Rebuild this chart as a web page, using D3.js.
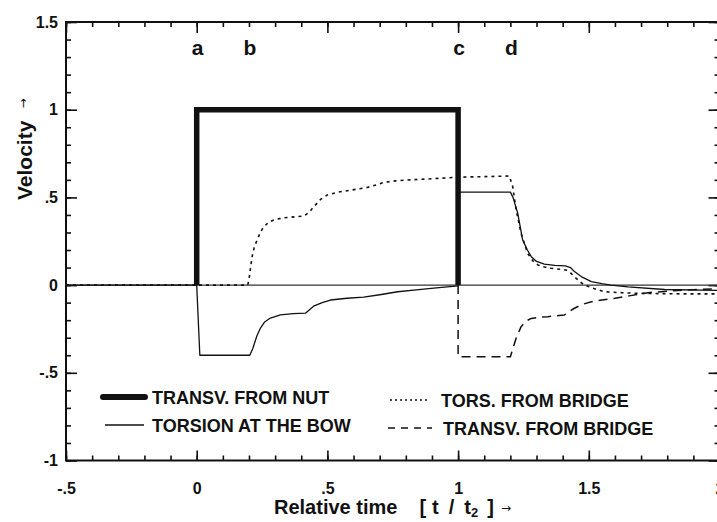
<!DOCTYPE html>
<html>
<head>
<meta charset="utf-8">
<script src="https://cdn.jsdelivr.net/npm/d3@7"></script>
<style>
  html, body { margin: 0; padding: 0; background: #fff; }
  svg { display: block; }
  text { font-family: "Liberation Sans", Arial, Helvetica, sans-serif; fill: #111; }
</style>
</head>
<body>
<svg id="chart" width="717" height="522"></svg>
<script>
// ---- data -------------------------------------------------------------
const timeMajorTicks = [-0.5, 0, 0.5, 1, 1.5, 2];
const timeMinorTicks = d3.range(-0.5, 2.001, 0.1);
const velocityMajorTicks = [-1, -0.5, 0, 0.5, 1, 1.5];
const velocityMinorTicks = d3.range(-1, 1.501, 0.1);

// event markers along the top
const markerLabels = ["a", "b", "c", "d"];
const markerTimes = [0, 0.2, 1, 1.2];

// transverse wave arriving from the nut (square pulse)
const nutTime = [0, 0, 1, 1];
const nutVel  = [0, 1, 1, 0];

// torsion at the bow
const bowTime = [-0.5, 0, 0.012, 0.203, 0.215, 0.23, 0.244, 0.26, 0.282, 0.32, 0.37, 0.416, 0.447, 0.48, 0.512,
                 0.575, 0.639, 0.7, 0.769, 0.84, 0.907, 1.0, 1.0, 1.2, 1.21, 1.228, 1.247, 1.265, 1.28, 1.3,
                 1.33, 1.37, 1.41, 1.43, 1.445, 1.475, 1.51, 1.55, 1.585, 1.65, 1.79, 2.0];
const bowVel  = [0, 0, -0.40, -0.40, -0.36, -0.29, -0.245, -0.21, -0.188, -0.17, -0.163, -0.16, -0.12, -0.1, -0.085,
                 -0.075, -0.068, -0.055, -0.038, -0.027, -0.017, -0.005, 0.53, 0.53, 0.50, 0.41, 0.257, 0.2, 0.162, 0.135,
                 0.12, 0.112, 0.11, 0.1, 0.077, 0.045, 0.02, 0.008, 0.0, -0.01, -0.025, -0.03];

// torsional wave from the bridge
const torsTime = [-0.5, 0.195, 0.2, 0.206, 0.212, 0.22, 0.231, 0.245, 0.257, 0.275, 0.295, 0.325, 0.359, 0.41, 0.43,
                  0.448, 0.475, 0.5, 0.54, 0.576, 0.653, 0.69, 0.717, 0.76, 0.806, 0.908, 0.998, 1.196, 1.209, 1.222,
                  1.241, 1.266, 1.285, 1.305, 1.33, 1.356, 1.413, 1.43, 1.445, 1.465, 1.484, 1.52, 1.56, 1.62, 1.688,
                  1.854, 2.0];
const torsVel  = [0, 0, 0.03, 0.1, 0.162, 0.215, 0.257, 0.305, 0.333, 0.358, 0.371, 0.382, 0.387, 0.394, 0.415,
                  0.447, 0.49, 0.514, 0.53, 0.538, 0.557, 0.572, 0.586, 0.594, 0.599, 0.607, 0.615, 0.622, 0.561, 0.428,
                  0.295, 0.181, 0.14, 0.115, 0.103, 0.096, 0.086, 0.07, 0.048, 0.02, 0.0, -0.02, -0.038, -0.043, -0.047,
                  -0.05, -0.05];

// transverse wave from the bridge
const bridgeTime = [1.0, 1.0, 1.2, 1.21, 1.222, 1.241, 1.26, 1.28, 1.31, 1.343, 1.407, 1.425, 1.445, 1.475, 1.51,
                    1.55, 1.6, 1.66, 1.727, 1.867, 2.0];
const bridgeVel  = [0, -0.408, -0.408, -0.36, -0.303, -0.237, -0.205, -0.19, -0.183, -0.18, -0.17, -0.15, -0.132,
                    -0.11, -0.095, -0.085, -0.075, -0.06, -0.043, -0.028, -0.02];

const seriesNames = ["TRANSV. FROM NUT", "TORSION AT THE BOW", "TORS. FROM BRIDGE", "TRANSV. FROM BRIDGE"];

// ---- layout -----------------------------------------------------------
const svg = d3.select("#chart");
const x = d3.scaleLinear().domain([-0.5, 2]).range([66, 719.5]);
const y = d3.scaleLinear().domain([-1, 1.5]).range([460.5, 22]);
const ink = "#111";

// ".5" style labels: drop the leading zero
const fmt = v => (v === 0 ? "0" : String(v).replace(/^(-?)0\./, "$1."));

// ---- axes: majors with labels, minors unlabeled, ticks pointing inward
function tickStyle(g) {
  g.select(".domain").remove();
  g.selectAll("line").attr("stroke", ink).attr("stroke-width", 1.6);
  g.selectAll("text").attr("font-size", 16).attr("font-weight", "bold").attr("fill", ink)
    .style("font-family", '"Liberation Sans", Arial, sans-serif');
}

svg.append("g").attr("transform", `translate(${x(-0.5)},0)`)
  .call(d3.axisLeft(y).tickValues(velocityMajorTicks).tickSize(-11).tickPadding(8).tickFormat(fmt))
  .call(tickStyle);
svg.append("g").attr("transform", `translate(${x(-0.5)},0)`)
  .call(d3.axisLeft(y).tickValues(velocityMinorTicks).tickSize(-5).tickFormat(""))
  .call(tickStyle);
svg.append("g").attr("transform", `translate(${x(2)},0)`)
  .call(d3.axisRight(y).tickValues(velocityMajorTicks).tickSize(-11).tickFormat(""))
  .call(tickStyle);
svg.append("g").attr("transform", `translate(${x(2)},0)`)
  .call(d3.axisRight(y).tickValues(velocityMinorTicks).tickSize(-5).tickFormat(""))
  .call(tickStyle);

svg.append("g").attr("transform", `translate(0,${y(-1)})`)
  .call(d3.axisBottom(x).tickValues(timeMajorTicks).tickSize(-10).tickPadding(22).tickFormat(fmt))
  .call(tickStyle);
svg.append("g").attr("transform", `translate(0,${y(-1)})`)
  .call(d3.axisBottom(x).tickValues(timeMinorTicks).tickSize(-5).tickFormat(""))
  .call(tickStyle);
svg.append("g").attr("transform", `translate(0,${y(1.5)})`)
  .call(d3.axisTop(x).tickValues(timeMajorTicks).tickSize(-11).tickFormat(""))
  .call(tickStyle);
svg.append("g").attr("transform", `translate(0,${y(1.5)})`)
  .call(d3.axisTop(x).tickValues(timeMinorTicks).tickSize(-5).tickFormat(""))
  .call(tickStyle);

// frame
svg.append("rect")
  .attr("x", x(-0.5)).attr("y", y(1.5))
  .attr("width", x(2) - x(-0.5)).attr("height", y(-1) - y(1.5))
  .attr("fill", "none").attr("stroke", ink).attr("stroke-width", 2);

// zero reference line
svg.append("line")
  .attr("x1", x(-0.5)).attr("x2", x(2))
  .attr("y1", y(0)).attr("y2", y(0))
  .attr("stroke", "#333").attr("stroke-width", 1.2);

// ---- curves -------------------------------------------------------------
const line = d3.line().x(d => x(d[0])).y(d => y(d[1]));
const zip = (a, b) => a.map((t, i) => [t, b[i]]);

const styles = [
  { width: 5.5, dash: null },
  { width: 1.3, dash: null },
  { width: 1.6, dash: "3,4" },
  { width: 1.5, dash: "9,6" }
];
const seriesData = [zip(nutTime, nutVel), zip(bowTime, bowVel), zip(torsTime, torsVel), zip(bridgeTime, bridgeVel)];

const plot = svg.append("g");
[1, 2, 3, 0].forEach(i => {
  plot.append("path")
    .attr("d", line(seriesData[i]))
    .attr("fill", "none")
    .attr("stroke", ink)
    .attr("stroke-width", styles[i].width)
    .attr("stroke-linejoin", i === 0 ? "miter" : "round")
    .attr("stroke-dasharray", styles[i].dash);
});

// ---- event letters ------------------------------------------------------
svg.append("g").selectAll("text")
  .data(markerLabels)
  .join("text")
  .attr("x", (d, i) => x(markerTimes[i]) + 1)
  .attr("y", 55)
  .attr("text-anchor", "middle")
  .attr("font-size", 21)
  .attr("font-weight", "bold")
  .text(d => d);

// ---- legend -------------------------------------------------------------
const legendPos = [
  { lx: 103, ly: 397, tx: 152, ty: 403.5, len: 42 },
  { lx: 105, ly: 425, tx: 152, ty: 431.5, len: 39 },
  { lx: 390, ly: 400, tx: 441, ty: 406.5, len: 40 },
  { lx: 388, ly: 428, tx: 443, ty: 434.5, len: 44 }
];
const legend = svg.append("g");
seriesNames.forEach((name, i) => {
  const p = legendPos[i];
  legend.append("line")
    .attr("x1", p.lx).attr("x2", p.lx + p.len)
    .attr("y1", p.ly).attr("y2", p.ly)
    .attr("stroke", ink)
    .attr("stroke-width", i === 0 ? 6 : (i === 1 ? 1.3 : 1.5))
    .attr("stroke-linecap", i === 0 ? "round" : "butt")
    .attr("stroke-dasharray", i === 2 ? "2,3" : (i === 3 ? "7,6" : null));
  legend.append("text")
    .attr("x", p.tx).attr("y", p.ty)
    .attr("font-size", 18)
    .attr("font-weight", "bold")
    .text(name);
});

// ---- axis titles --------------------------------------------------------
const xt = svg.append("text")
  .attr("x", 274).attr("y", 514)
  .attr("font-size", 20)
  .attr("font-weight", "bold");
xt.append("tspan").text("Relative time");
xt.append("tspan").attr("dx", 22).text("[");
xt.append("tspan").attr("dx", 6).text("t");
xt.append("tspan").attr("dx", 10).text("/");
xt.append("tspan").attr("dx", 10).text("t");
xt.append("tspan").attr("font-size", 13).attr("dy", 3).text("2");
xt.append("tspan").attr("dx", 9).attr("dy", -3).text("]");
xt.append("tspan").attr("dx", 7).attr("font-size", 12).attr("dy", -2)
  .attr("font-weight", "normal")
  .style("font-family", '"DejaVu Sans", sans-serif').text("→");

const yt = svg.append("text")
  .attr("transform", "translate(32,200) rotate(-90)")
  .attr("font-size", 21)
  .attr("font-weight", "bold");
yt.append("tspan").text("Velocity");
yt.append("tspan").attr("dx", 12).attr("font-size", 12).attr("dy", -5)
  .attr("font-weight", "normal")
  .style("font-family", '"DejaVu Sans", sans-serif').text("→");
</script>
</body>
</html>
